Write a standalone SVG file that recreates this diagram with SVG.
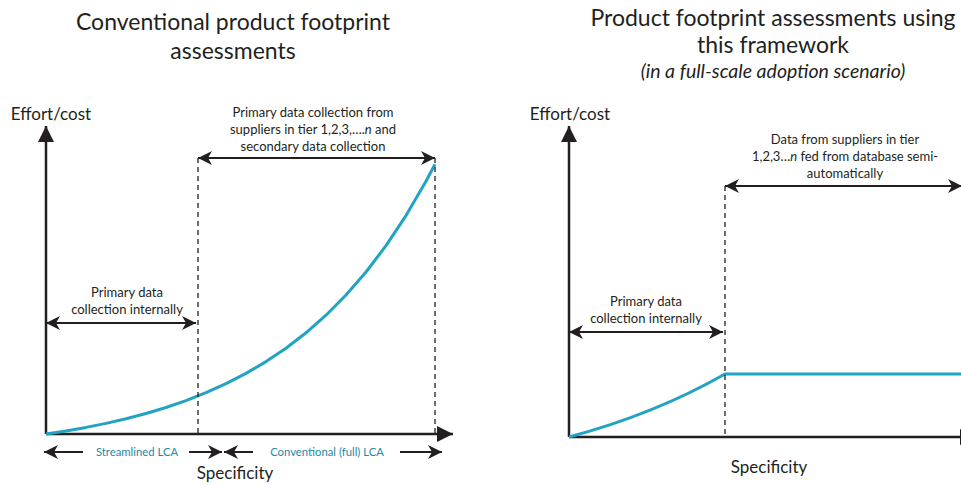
<svg xmlns="http://www.w3.org/2000/svg" width="961" height="485" viewBox="0 0 961 485">
  <style>
    text { font-family: Lato, "Open Sans", sans-serif; fill: #231f20; text-anchor: middle; }
    .title { font-size: 23px; }
    .sub { font-size: 19.5px; font-style: italic; }
    .axl { font-size: 17px; }
    .lbl { font-size: 13px; }
    .lca { font-size: 11.3px; fill: #1d8aa3; }
    .axis { stroke: #231f20; stroke-width: 2.5; fill: none; }
    .dash { stroke: #231f20; stroke-width: 1.3; stroke-dasharray: 5 4; fill: none; }
    .span { stroke: #231f20; stroke-width: 2; fill: none; }
    .curve { stroke: #22a3c4; stroke-width: 3; fill: none; stroke-linejoin: round; }
  </style>
  <defs>
    <marker id="axHead" markerUnits="userSpaceOnUse" markerWidth="20" markerHeight="20" viewBox="0 0 20 20" refX="18" refY="10" orient="auto">
      <path d="M2,2 L18,10 L2,18 Z" fill="#231f20"/>
    </marker>
    <marker id="spHead" markerUnits="userSpaceOnUse" markerWidth="16" markerHeight="16" viewBox="0 0 16 16" refX="15" refY="8" orient="auto-start-reverse">
      <path d="M1,1 L15,8 L1,15 L5,8 Z" fill="#231f20"/>
    </marker>
  </defs>

  <!-- Left panel: conventional assessments -->
  <g id="left-title">
    <text class="title" x="233" y="30">Conventional product footprint</text>
    <text class="title" x="233" y="59">assessments</text>
  </g>
  <g id="left-axes">
    <line class="axis" x1="46" y1="434" x2="46" y2="126" marker-end="url(#axHead)"/>
    <line class="axis" x1="46" y1="434" x2="453" y2="434" marker-end="url(#axHead)"/>
    <text class="axl" x="51" y="120">Effort/cost</text>
    <text class="axl" x="235" y="479">Specificity</text>
  </g>
  <g id="left-curve">
    <!-- exponential effort curve: y = 434 - 21.5(e^(0.0067(x-46)) - 1) -->
    <polyline class="curve" points="46,434 66,430.9 86,427.4 106,423.4 126,418.8 146,413.5 166,407.5 186,400.6 206,392.7 226,383.7 246,373.4 266,361.6 286,348.2 306,332.8 326,315.2 346,295 366,272 386,245.7 406,215.6 426,181.2 435,164.2"/>
  </g>
  <g id="left-connectors">
    <line class="dash" x1="198" y1="158" x2="198" y2="434"/>
    <line class="dash" x1="435" y1="158" x2="435" y2="434"/>
    <line class="span" x1="198" y1="158" x2="435" y2="158" marker-start="url(#spHead)" marker-end="url(#spHead)"/>
    <line class="span" x1="46" y1="323" x2="196" y2="323" marker-start="url(#spHead)" marker-end="url(#spHead)"/>
  </g>
  <g id="left-labels">
    <text class="lbl" x="313" y="117">Primary data collection from</text>
    <text class="lbl" x="313" y="134">suppliers in tier 1,2,3,….<tspan font-style="italic">n</tspan> and</text>
    <text class="lbl" x="313" y="151">secondary data collection</text>
    <text class="lbl" x="127" y="297">Primary data</text>
    <text class="lbl" x="127" y="314">collection internally</text>
  </g>
  <g id="left-lca-ranges">
    <line class="span" x1="83" y1="452" x2="44" y2="452" marker-end="url(#spHead)"/>
    <text class="lca" x="137" y="456">Streamlined LCA</text>
    <line class="span" x1="189" y1="452" x2="222" y2="452" marker-end="url(#spHead)"/>
    <line class="span" x1="253" y1="452" x2="224" y2="452" marker-end="url(#spHead)"/>
    <text class="lca" x="327" y="456">Conventional (full) LCA</text>
    <line class="span" x1="400" y1="452" x2="442" y2="452" marker-end="url(#spHead)"/>
  </g>

  <!-- Right panel: assessments with the framework -->
  <g id="right-title">
    <text class="title" x="773" y="26">Product footprint assessments using</text>
    <text class="title" x="773" y="53">this framework</text>
    <text class="sub" x="773" y="78">(in a full-scale adoption scenario)</text>
  </g>
  <g id="right-axes">
    <line class="axis" x1="569" y1="437" x2="569" y2="126" marker-end="url(#axHead)"/>
    <line class="axis" x1="569" y1="437" x2="976" y2="437" marker-end="url(#axHead)"/>
    <text class="axl" x="570" y="120">Effort/cost</text>
    <text class="axl" x="769" y="473">Specificity</text>
  </g>
  <g id="right-curve">
    <path class="curve" d="M569,437 Q655,414 725,374 L961,374"/>
  </g>
  <g id="right-connectors">
    <line class="dash" x1="725" y1="186" x2="725" y2="437"/>
    <line class="span" x1="725" y1="186" x2="962" y2="186" marker-start="url(#spHead)" marker-end="url(#spHead)"/>
    <line class="span" x1="569" y1="332" x2="723" y2="332" marker-start="url(#spHead)" marker-end="url(#spHead)"/>
  </g>
  <g id="right-labels">
    <text class="lbl" x="845" y="144">Data from suppliers in tier</text>
    <text class="lbl" x="845" y="161">1,2,3…<tspan font-style="italic">n</tspan> fed from database semi-</text>
    <text class="lbl" x="845" y="178">automatically</text>
    <text class="lbl" x="646" y="306">Primary data</text>
    <text class="lbl" x="646" y="323">collection internally</text>
  </g>
</svg>
